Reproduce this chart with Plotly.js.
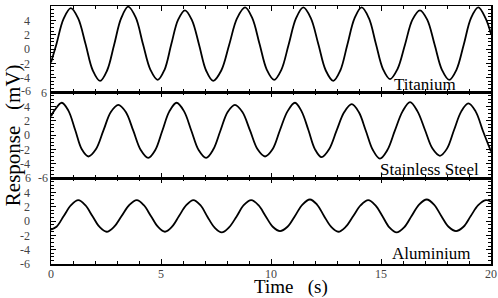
<!DOCTYPE html>
<html>
<head>
<meta charset="utf-8">
<script src="https://cdn.plot.ly/plotly-3.0.1.min.js"></script>
<style>html,body{margin:0;padding:0;background:#fff;}#chart{width:498px;height:298px;}</style>
</head>
<body>
<div id="chart"></div>
<script>
// Titanium response
const tiTime = [0.0,0.24,0.57,0.90,1.23,1.57,1.90,2.23,2.55,2.87,3.19,3.51,3.85,4.18,4.52,4.85,5.16,5.47,5.78,6.09,6.41,6.73,7.05,7.37,7.74,8.10,8.46,8.82,9.15,9.48,9.81,10.14,10.47,10.80,11.14,11.47,11.81,12.15,12.49,12.83,13.15,13.47,13.80,14.12,14.45,14.77,15.09,15.41,15.75,16.09,16.43,16.77,17.10,17.43,17.77,18.10,18.43,18.76,19.09,19.42,19.75,20.0];
const tiResp = [-1.9,0.6,4.2,5.7,4.3,0.7,-3.0,-4.45,-3.0,0.6,4.3,5.9,4.4,0.7,-2.9,-4.3,-2.9,0.7,4.1,5.4,4.0,0.6,-3.0,-4.45,-3.0,0.6,4.3,5.8,4.3,0.7,-2.9,-4.3,-2.9,0.6,4.3,5.8,4.3,0.7,-3.0,-4.45,-3.0,0.6,4.3,5.8,4.3,0.7,-2.8,-4.2,-2.8,0.6,4.1,5.4,4.1,0.7,-2.9,-4.3,-2.9,0.6,4.3,5.8,4.3,2.1];

// Stainless steel response
const ssTime = [0.0,0.17,0.49,0.79,1.10,1.40,1.70,2.04,2.38,2.72,3.06,3.40,3.74,4.08,4.42,4.74,5.06,5.38,5.71,6.05,6.38,6.71,7.05,7.38,7.70,8.03,8.36,8.70,9.05,9.39,9.73,10.07,10.41,10.75,11.09,11.39,11.70,12.00,12.30,12.64,12.98,13.33,13.67,13.99,14.31,14.63,14.95,15.29,15.63,15.98,16.32,16.66,17.00,17.34,17.68,18.00,18.32,18.65,18.97,19.30,19.63,20.0];
const ssResp = [2.6,3.5,4.5,3.4,0.7,-2.0,-3.0,-2.0,0.6,3.2,4.2,3.2,0.6,-2.1,-3.2,-2.1,0.6,3.3,4.5,3.3,0.6,-2.1,-3.2,-2.0,0.6,3.2,4.2,3.2,0.6,-2.0,-3.0,-2.0,0.7,3.3,4.5,3.3,0.7,-2.0,-3.1,-2.0,0.6,3.2,4.3,3.2,0.6,-2.1,-3.3,-2.1,0.6,3.3,4.6,3.3,0.7,-1.9,-2.9,-1.9,0.7,3.3,4.4,3.3,0.6,-2.3];

// Aluminium response
const alTime = [0.0,0.25,0.58,0.91,1.24,1.56,1.88,2.20,2.53,2.87,3.21,3.55,3.90,4.22,4.54,4.86,5.18,5.50,5.82,6.15,6.47,6.79,7.11,7.43,7.76,8.09,8.43,8.76,9.10,9.43,9.75,10.08,10.41,10.75,11.09,11.43,11.77,12.09,12.41,12.73,13.06,13.40,13.74,14.08,14.42,14.74,15.06,15.38,15.71,16.05,16.39,16.73,17.08,17.41,17.74,18.07,18.41,18.75,19.08,19.42,19.76,20.0];
const alResp = [-1.2,-0.8,0.7,2.2,2.9,2.2,0.7,-0.8,-1.5,-0.8,0.7,2.2,2.9,2.2,0.7,-0.8,-1.5,-0.8,0.7,2.2,2.9,2.2,0.6,-0.9,-1.6,-0.9,0.6,2.2,2.9,2.2,0.7,-0.8,-1.4,-0.8,0.7,2.3,3.0,2.3,0.7,-0.8,-1.5,-0.8,0.7,2.2,2.9,2.2,0.7,-0.9,-1.6,-0.9,0.7,2.3,3.0,2.3,0.7,-0.8,-1.4,-0.8,0.7,2.2,2.9,2.7];

const materials = ['Titanium','Stainless Steel','Aluminium'];
const yTickVals = [-6,-4,-2,0,2,4,6];
const xTickVals = [0,5,10,15,20];

const serif = 'Liberation Serif, Times New Roman, serif';
const lineStyle = {color:'#000', width:1.8, shape:'spline', smoothing:1};

const traces = [
  {x: tiTime, y: tiResp, xaxis:'x', yaxis:'y', mode:'lines', line: lineStyle, hoverinfo:'skip'},
  {x: ssTime, y: ssResp, xaxis:'x2', yaxis:'y2', mode:'lines', line: lineStyle, hoverinfo:'skip'},
  {x: alTime, y: alResp, xaxis:'x3', yaxis:'y3', mode:'lines', line: lineStyle, hoverinfo:'skip'}
];

function xAxis(anchor, showLabels){
  return {
    anchor: anchor, range:[0,20], domain:[0,1],
    tickvals: xTickVals, ticktext: xTickVals.map(String),
    showticklabels: showLabels,
    ticks:'inside', ticklen:5, tickwidth:1, tickcolor:'#000',
    minor:{dtick:1, ticks:'inside', ticklen:3, tickcolor:'#000', tickwidth:1},
    mirror:'allticks', showline:true, linecolor:'#000', linewidth:1.5,
    showgrid:false, zeroline:false, ticklabelstandoff: -2,
    tickfont:{family:serif, size:12, color:'#444'}
  };
}
function yAxis(anchor, domain, texts){
  return {
    anchor: anchor, range:[-6,6], domain: domain,
    tickvals: yTickVals, ticktext: texts,
    ticks:'inside', ticklen:5, tickwidth:1, tickcolor:'#000',
    minor:{dtick:0.5, ticks:'inside', ticklen:3, tickcolor:'#000', tickwidth:1},
    mirror:'allticks', showline:true, linecolor:'#000', linewidth:1.5,
    showgrid:false, zeroline:false, ticklabelstandoff: 17,
    tickfont:{family:serif, size:12, color:'#444'}
  };
}

const lbl = yTickVals.map(String);
const annFont = {family:serif, size:12, color:'#444'};
const layout = {
  width:498, height:298,
  margin:{l:51, r:7, t:6, b:34},
  paper_bgcolor:'#fff', plot_bgcolor:'#fff',
  showlegend:false,
  xaxis: xAxis('y', false),
  xaxis2: xAxis('y2', false),
  xaxis3: xAxis('y3', true),
  yaxis: yAxis('x', [2/3,1], lbl.map((t,i)=> i===0 ? '' : t)),
  yaxis2: yAxis('x2', [1/3,2/3], lbl.map((t,i)=> (i===0||i===6) ? '' : t)),
  yaxis3: yAxis('x3', [0,1/3], lbl.map((t,i)=> i===6 ? '' : t)),
  annotations: [
    {text: materials[0], xref:'x', yref:'y', x:20, y:-4.9, xanchor:'right', yanchor:'middle', xshift:-33, showarrow:false, font:{family:serif, size:17, color:'#000'}},
    {text: materials[1], xref:'x2', yref:'y2', x:20, y:-4.8, xanchor:'right', yanchor:'middle', xshift:-10, showarrow:false, font:{family:serif, size:17, color:'#000'}},
    {text: materials[2], xref:'x3', yref:'y3', x:20, y:-4.6, xanchor:'right', yanchor:'middle', xshift:-19, showarrow:false, font:{family:serif, size:17, color:'#000'}},
    {text:'-6', xref:'paper', yref:'paper', x:-0.041, y:0.667, xanchor:'right', yanchor:'middle', yshift:1, showarrow:false, font:annFont},
    {text:'6', xref:'paper', yref:'paper', x:-0.027, y:0.667, xanchor:'left', yanchor:'middle', yshift:-1, showarrow:false, font:annFont},
    {text:'6', xref:'paper', yref:'paper', x:-0.041, y:0.333, xanchor:'right', yanchor:'middle', showarrow:false, font:annFont},
    {text:'-6', xref:'paper', yref:'paper', x:-0.034, y:0.333, xanchor:'left', yanchor:'middle', showarrow:false, font:annFont},
    {text:'Response\u00a0\u00a0\u00a0(mV)', xref:'paper', yref:'paper', x:-0.086, y:0.5, xanchor:'center', yanchor:'middle', textangle:-90, showarrow:false, font:{family:serif, size:21, color:'#000'}},
    {text:'Time\u00a0\u00a0\u00a0(s)', xref:'paper', yref:'paper', x:0.545, y:0, yshift:-23, xanchor:'center', yanchor:'middle', showarrow:false, font:{family:serif, size:19, color:'#000'}}
  ]
};

Plotly.newPlot('chart', traces, layout, {staticPlot:true, displayModeBar:false});
</script>
</body>
</html>
